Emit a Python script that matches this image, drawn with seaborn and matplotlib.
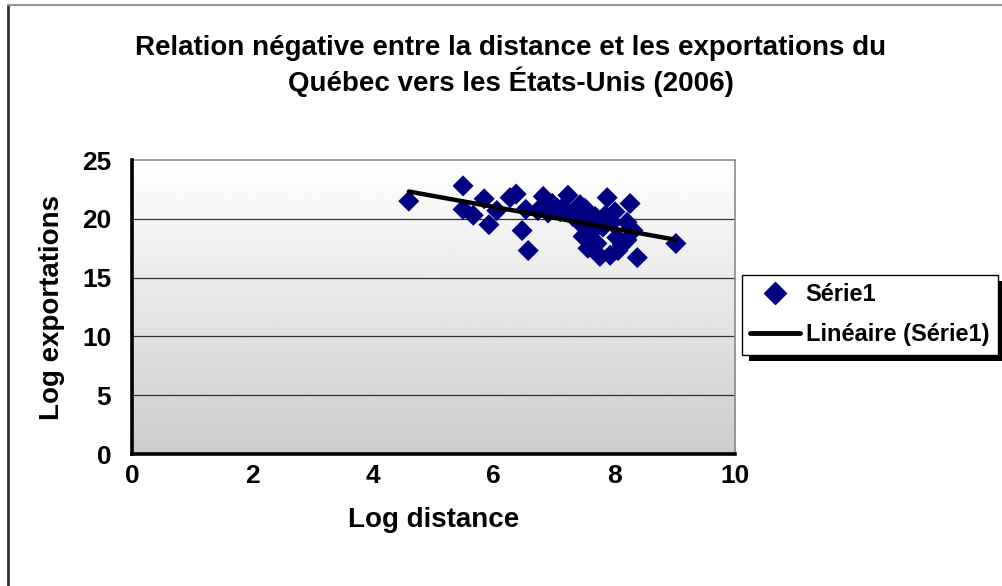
import matplotlib
matplotlib.use("Agg")
import matplotlib.pyplot as plt
from matplotlib.patches import Rectangle
from matplotlib.lines import Line2D
import seaborn as sns
import numpy as np
import pandas as pd

# valeurs (log distance, log exportations)
log_distance = [4.59, 5.49, 5.49, 5.66, 5.84, 5.92, 6.05, 6.27, 6.37, 6.53,
                6.47, 6.57, 6.73, 6.82, 6.97, 7.05, 7.15, 7.23, 7.31, 7.43,
                7.51, 7.60, 7.68, 7.48, 7.56, 7.63, 7.71, 7.76, 7.81, 7.85,
                7.88, 7.93, 7.96, 8.01, 8.04, 8.06, 8.13, 8.21, 8.21, 8.26,
                8.31, 8.38, 9.02, 6.90, 7.10, 7.35, 7.40, 7.55]
log_export = [21.5, 22.8, 20.8, 20.3, 21.7, 19.5, 20.7, 21.8, 22.1, 20.8,
              19.0, 17.3, 20.7, 21.9, 21.3, 20.9, 21.0, 22.0, 20.2, 21.2,
              20.9, 19.9, 20.2, 18.5, 17.5, 18.9, 17.9, 16.8, 19.3, 20.3,
              21.8, 16.9, 19.7, 20.6, 18.4, 17.3, 17.8, 19.7, 18.2, 21.3,
              19.0, 16.7, 17.9, 20.5, 20.6, 20.4, 19.8, 19.4]

titre = "Relation négative entre la distance et les exportations du\nQuébec vers les États-Unis (2006)"

df = pd.DataFrame({"x": log_distance, "y": log_export})
pente, ordonnee = np.polyfit(df["x"], df["y"], 1)
xt = np.array([df["x"].min(), df["x"].max()])
trend = pd.DataFrame({"x": xt, "y": pente * xt + ordonnee})

sns.set_style("white")
plt.rcParams['font.family'] = ['Liberation Sans', 'DejaVu Sans']
plt.rcParams['font.weight'] = 'bold'
plt.rcParams['text.color'] = 'black'
plt.rcParams['axes.labelcolor'] = 'black'
plt.rcParams['xtick.color'] = 'black'
plt.rcParams['ytick.color'] = 'black'

W, H = 1002, 586
fig = plt.figure(figsize=(W / 100, H / 100), dpi=100)
ax = fig.add_axes([132 / W, 1 - 454 / H, (735 - 132) / W, (454 - 160) / H])

# fond en degrade blanc -> gris
grad = np.linspace(1.0, 0.8, 256).reshape(-1, 1)
ax.imshow(grad, cmap="gray", vmin=0, vmax=1, aspect="auto",
          extent=[0, 1, 0, 1], transform=ax.transAxes, zorder=0)

for yv in [5, 10, 15, 20]:
    ax.axhline(yv, color="#333333", lw=0.9, zorder=1)

sns.scatterplot(data=df, x="x", y="y", marker="D", s=115, color="#000080",
                edgecolor="none", ax=ax, zorder=3)
sns.lineplot(data=trend, x="x", y="y", color="black", lw=3.2, ax=ax, zorder=4)

ax.set_xlim(0, 10)
ax.set_ylim(0, 25)
ax.set_xticks([0, 2, 4, 6, 8, 10])
ax.set_yticks([0, 5, 10, 15, 20, 25])
ax.tick_params(axis="both", direction="out", length=7, width=2.5,
               labelsize=19, color="black", labelcolor="black")
ax.tick_params(axis="x", pad=0)
ax.tick_params(axis="y", pad=8)
for lab in ax.get_xticklabels() + ax.get_yticklabels():
    lab.set_fontweight("bold")

for side in ["left", "bottom"]:
    ax.spines[side].set_color("black")
    ax.spines[side].set_linewidth(2.6)
    ax.spines[side].set_zorder(5)
for side in ["top", "right"]:
    ax.spines[side].set_color("#8c8c8c")
    ax.spines[side].set_linewidth(1.2)

ax.set_xlabel("Log distance", fontsize=20, fontweight="bold", labelpad=14)
ax.set_ylabel("Log exportations", fontsize=20, fontweight="bold", labelpad=12)

fig.text(511 / W, 1 - 66 / H, titre, ha="center", va="center",
         fontsize=20, fontweight="bold", linespacing=1.25)

handles = [Line2D([], [], marker="D", color="#000080", ls="none", markersize=11),
           Line2D([], [], color="black", lw=3.5)]
leg = fig.legend(handles, ["Série1", "Linéaire (Série1)"],
                 loc="upper left", bbox_to_anchor=(742 / W, 1 - 275 / H),
                 frameon=True, fancybox=False, edgecolor="black",
                 framealpha=1, facecolor="white",
                 prop={"size": 17, "weight": "bold"}, handlelength=2.1,
                 handletextpad=0.25, borderpad=0.35, labelspacing=0.72,
                 borderaxespad=0)
leg.get_frame().set_linewidth(1.0)

# ombre noire sous la legende
fig.canvas.draw()
bb = leg.get_window_extent()
fig.patches.append(Rectangle((bb.x0 + 7, bb.y0 - 6), bb.width, bb.height,
                             transform=None, facecolor="black",
                             edgecolor="none", zorder=leg.get_zorder() - 1))

# cadre exterieur (gauche et haut)
fig.add_artist(Line2D([8 / W, 8 / W], [0, 1 - 5 / H], color="#333333", lw=2,
                      transform=fig.transFigure))
fig.add_artist(Line2D([8 / W, 1], [1 - 5 / H, 1 - 5 / H], color="#999999",
                      lw=1.5, transform=fig.transFigure))

fig.savefig("out.png", dpi=100)
